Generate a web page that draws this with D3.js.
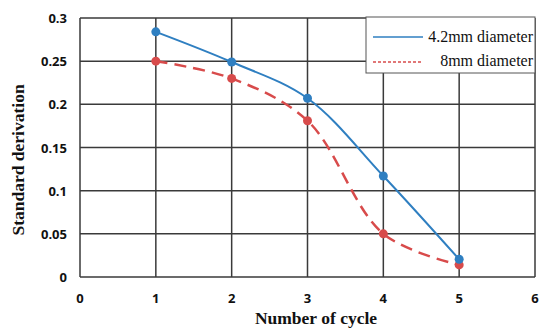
<!DOCTYPE html>
<html><head><meta charset="utf-8">
<script src="https://cdn.jsdelivr.net/npm/d3@7"></script>
<style>body{margin:0;background:#fff}</style>
</head><body>
<svg id="c" width="550" height="336"></svg>
<script>
const cycles = [1, 2, 3, 4, 5];
const d42 = [0.284, 0.249, 0.207, 0.117, 0.0205];
const d8 = [0.250, 0.230, 0.181, 0.050, 0.014];
const xTicks = [0, 1, 2, 3, 4, 5, 6];
const yTicks = [0, 0.05, 0.1, 0.15, 0.2, 0.25, 0.3];
const seriesNames = ["4.2mm diameter", "8mm diameter"];

const svg = d3.select("#c");
const x = d3.scaleLinear().domain([0, 6]).range([80, 535]);
const y = d3.scaleLinear().domain([0, 0.3]).range([277, 18]);
const grid = "#3a3a3a";

const g = svg.append("g");
yTicks.forEach(t => g.append("line").attr("x1", x(0)).attr("x2", x(6)).attr("y1", y(t)).attr("y2", y(t)).attr("stroke", grid).attr("stroke-width", 1.5));
xTicks.forEach(t => g.append("line").attr("x1", x(t)).attr("x2", x(t)).attr("y1", y(0)).attr("y2", y(0.3)).attr("stroke", grid).attr("stroke-width", 1.5));

const lab = "'Open Sans', 'DejaVu Sans', sans-serif";
svg.selectAll(".yl").data(yTicks).enter().append("text")
  .attr("x", 67).attr("y", d => y(d) + 5).attr("text-anchor", "end")
  .attr("font-family", lab).attr("font-weight", "bold").attr("font-size", 13).attr("fill", "#111")
  .text(d => d3.format("")(+d.toFixed(2)));
svg.selectAll(".xl").data(xTicks).enter().append("text")
  .attr("x", d => x(d)).attr("y", 303).attr("text-anchor", "middle")
  .attr("font-family", lab).attr("font-weight", "bold").attr("font-size", 13).attr("fill", "#111")
  .text(d => d);

svg.append("text").attr("x", 316).attr("y", 324).attr("text-anchor", "middle")
  .attr("font-family", "'Liberation Serif', serif").attr("font-weight", "bold").attr("font-size", 17.5).attr("fill", "#111")
  .text("Number of cycle");
svg.append("text").attr("transform", "translate(24,160) rotate(-90)").attr("text-anchor", "middle")
  .attr("font-family", "'Liberation Serif', serif").attr("font-weight", "bold").attr("font-size", 17.5).attr("fill", "#111")
  .text("Standard derivation");

const blue = "#2f7fc1", red = "#d84b4b";
const line = d3.line().x(d => x(d[0])).y(d => y(d[1])).curve(d3.curveCatmullRom.alpha(0.5));
const p42 = cycles.map((c, i) => [c, d42[i]]);
const p8 = cycles.map((c, i) => [c, d8[i]]);
svg.append("path").attr("d", line(p8)).attr("fill", "none").attr("stroke", red).attr("stroke-width", 2.5).attr("stroke-dasharray", "12,7");
svg.append("path").attr("d", line(p42)).attr("fill", "none").attr("stroke", blue).attr("stroke-width", 2);
svg.selectAll(".r").data(p8).enter().append("circle").attr("cx", d => x(d[0])).attr("cy", d => y(d[1])).attr("r", 4.5).attr("fill", red);
svg.selectAll(".b").data(p42).enter().append("circle").attr("cx", d => x(d[0])).attr("cy", d => y(d[1])).attr("r", 4.5).attr("fill", blue);

// legend
const lg = svg.append("g");
lg.append("rect").attr("x", 366).attr("y", 17).attr("width", 169).attr("height", 56).attr("fill", "#fff").attr("stroke", "#555").attr("stroke-width", 1);
lg.append("line").attr("x1", 373).attr("x2", 423).attr("y1", 37).attr("y2", 37).attr("stroke", blue).attr("stroke-width", 1.5);
lg.append("line").attr("x1", 373).attr("x2", 423).attr("y1", 62).attr("y2", 62).attr("stroke", red).attr("stroke-width", 1.5).attr("stroke-dasharray", "3,2");
lg.selectAll("text").data(seriesNames).enter().append("text")
  .attr("x", 533).attr("y", (d, i) => 42 + i * 24).attr("text-anchor", "end")
  .attr("font-family", "'Liberation Serif', serif").attr("font-size", 16).attr("fill", "#111")
  .text(d => d);
</script>
</body></html>
